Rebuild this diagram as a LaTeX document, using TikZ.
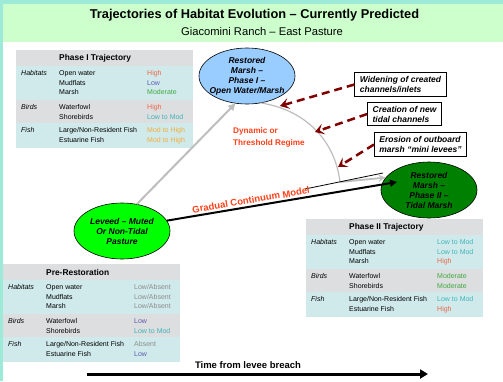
\documentclass[tikz,border=0pt]{standalone}
\usepackage{fontspec}
\setmainfont{Liberation Sans}
\usetikzlibrary{arrows.meta, shapes.geometric}
\definecolor{slideteal}{RGB}{158,234,216}
\definecolor{titlegreen}{RGB}{204,255,204}
\definecolor{tgray}{RGB}{220,222,223}
\definecolor{tcyan}{RGB}{208,234,236}
\definecolor{hicol}{RGB}{240,100,72}
\definecolor{lowcol}{RGB}{92,92,176}
\definecolor{modcol}{RGB}{64,168,64}
\definecolor{lmcol}{RGB}{64,180,184}
\definecolor{mhcol}{RGB}{244,172,56}
\definecolor{abcol}{RGB}{140,140,140}
\definecolor{regred}{RGB}{255,64,24}
\definecolor{dashred}{RGB}{128,0,0}
\definecolor{pathgray}{RGB}{190,190,190}
\definecolor{ph1blue}{RGB}{153,204,255}
\definecolor{levgreen}{RGB}{0,255,0}
\definecolor{ph2green}{RGB}{0,128,0}

\newcommand{\tabsize}{\fontsize{7}{8}\selectfont}
% one habitat table: shift, name prefix, title, value/colour list
\newcommand{\habtable}[4]{%
  \begin{scope}[shift={#1}]
    \fill[tgray] (0,0) rectangle (177,15.5);
    \fill[tcyan] (0,15.5) rectangle (177,49.5);
    \fill[tgray] (0,49.5) rectangle (177,73);
    \fill[tcyan] (0,73) rectangle (177,98);
    \node[thead] (#2head) at (43,8.5) {#3};
    \node[tcat] (#2hab) at (5,23.5) {Habitats};
    \node[tcat] (#2bird) at (5,57.5) {Birds};
    \node[tcat] (#2fish) at (5,81) {Fish};
    \foreach \yy/\lab [count=\n] in {23.5/Open water, 33.5/Mudflats, 43/Marsh, 57.5/Waterfowl, 67.5/Shorebirds, 81/{Large/Non-Resident Fish}, 91/Estuarine Fish}
      \node[titem] (#2i\n) at (43,\yy) {\lab};
    \foreach \val/\col [count=\n] in {#4}
      \node[titem, text=\col] (#2v\n) at ([xshift=88pt]#2i\n.west) {\val};
  \end{scope}}

\begin{document}
\begin{tikzpicture}[x=1pt, y=-1pt,
  tcat/.style={anchor=west, inner sep=0pt, text height=5pt, text depth=1.5pt, font=\tabsize\itshape},
  titem/.style={anchor=west, inner sep=0pt, text height=5pt, text depth=1.5pt, font=\tabsize},
  thead/.style={anchor=west, inner sep=0pt, font=\fontsize{8.4}{10}\selectfont\bfseries},
  stage/.style={ellipse, draw=black, line width=0.6pt, minimum width=96pt, minimum height=56pt, inner xsep=-4pt, inner ysep=0pt, align=center, font=\fontsize{8.5}{10}\selectfont\bfseries\itshape},
  driver/.style={draw=black, line width=0.9pt, fill=white, align=left, inner xsep=5pt, inner ysep=3.5pt, font=\fontsize{8.5}{10}\selectfont\bfseries\itshape},
  drive/.style={dashred, line width=2.5pt, dash pattern=on 8pt off 5pt, -{Stealth[length=9pt, width=11pt, inset=4pt]}},
  regime/.style={regred, align=left, inner sep=0pt, font=\fontsize{8.2}{12}\selectfont\bfseries}]
  \useasboundingbox (0,0) rectangle (503,381);
  \fill[slideteal] (0,0) rectangle (503,381);
  \fill[white] (3,4) rectangle (503,381);
  \fill[titlegreen] (3,4) rectangle (503,42);
  \node[font=\fontsize{12.8}{14}\selectfont\bfseries] (title) at (254.5,15) {Trajectories of Habitat Evolution -- Currently Predicted};
  \node[font=\fontsize{11.2}{13}\selectfont] (subtitle) at (262,31) {Giacomini Ranch -- East Pasture};

  \habtable{(16,50)}{pa}{Phase I Trajectory}{High/hicol, Low/lowcol, Moderate/modcol, High/hicol, Low to Mod/lmcol, Mod to High/mhcol, Mod to High/mhcol}
  \habtable{(306,219)}{pb}{Phase II Trajectory}{Low to Mod/lmcol, Low to Mod/lmcol, High/hicol, Moderate/modcol, Moderate/modcol, Low to Mod/lmcol, High/hicol}
  \habtable{(3,264)}{pre}{Pre-Restoration}{{Low/Absent}/abcol, {Low/Absent}/abcol, {Low/Absent}/abcol, Low/lowcol, Low to Mod/lmcol, Absent/abcol, Low/lowcol}

  \node[stage, fill=ph1blue] (ph1) at (247,76) {Restored\\Marsh --\\Phase I --\\Open Water/Marsh};
  \node[stage, fill=levgreen] (lev) at (122,231) {Leveed -- Muted\\Or Non-Tidal\\Pasture};
  \node[stage, fill=ph2green] (ph2) at (429,190) {Restored\\Marsh --\\Phase II --\\Tidal Marsh};

  \coordinate (bend) at (340,182);
  \coordinate (gcend) at (397,182);
  \coordinate (thinA) at (305,189);
  \coordinate (thinB) at (383,173);
  \draw[pathgray, line width=2pt, -{Triangle[length=7pt, width=7pt]}] (lev.61) -- (ph1.247);
  \draw[pathgray, line width=1.2pt] (ph1.298) .. controls (305,110) and (335,140) .. (bend);
  \draw[pathgray, line width=1.8pt, -{Stealth[length=7pt, width=7pt]}] (bend) -- (ph2.164);
  \draw[line width=0.8pt] (thinA) -- (thinB);
  \draw[line width=2pt, -{Triangle[length=7pt, width=7pt]}] (lev.13) -- node[sloped, above=2pt, pos=0.37, regred, inner sep=0pt, font=\fontsize{9.5}{11}\selectfont\bfseries] (gcm) {Gradual Continuum Model} (gcend);

  \node[regime, anchor=west] (dyn) at (233,137) {Dynamic or\\Threshold Regime};

  \node[driver] (b1) at (400.5,84.5) {Widening of created\\channels/inlets};
  \node[driver] (b2) at (404.5,114) {Creation of new\\tidal channels};
  \node[driver] (b3) at (420.5,144.5) {Erosion of outboard\\marsh ``mini levees''};
  \coordinate (d1) at (280,106);
  \coordinate (d2) at (315,132);
  \coordinate (d3) at (338,167);
  \draw[drive] (b1.west) -- (d1);
  \draw[drive] (b2.west) -- (d2);
  \draw[drive] (b3.west) -- (d3);

  \coordinate (ts) at (87,374);
  \coordinate (te) at (428,374);
  \draw[line width=3pt, -{Triangle[length=8pt, width=9pt]}] (ts) -- (te);
  \node[font=\fontsize{9.5}{11}\selectfont\bfseries] (tlab) at (248,365) {Time from levee breach};
\end{tikzpicture}
\end{document}
